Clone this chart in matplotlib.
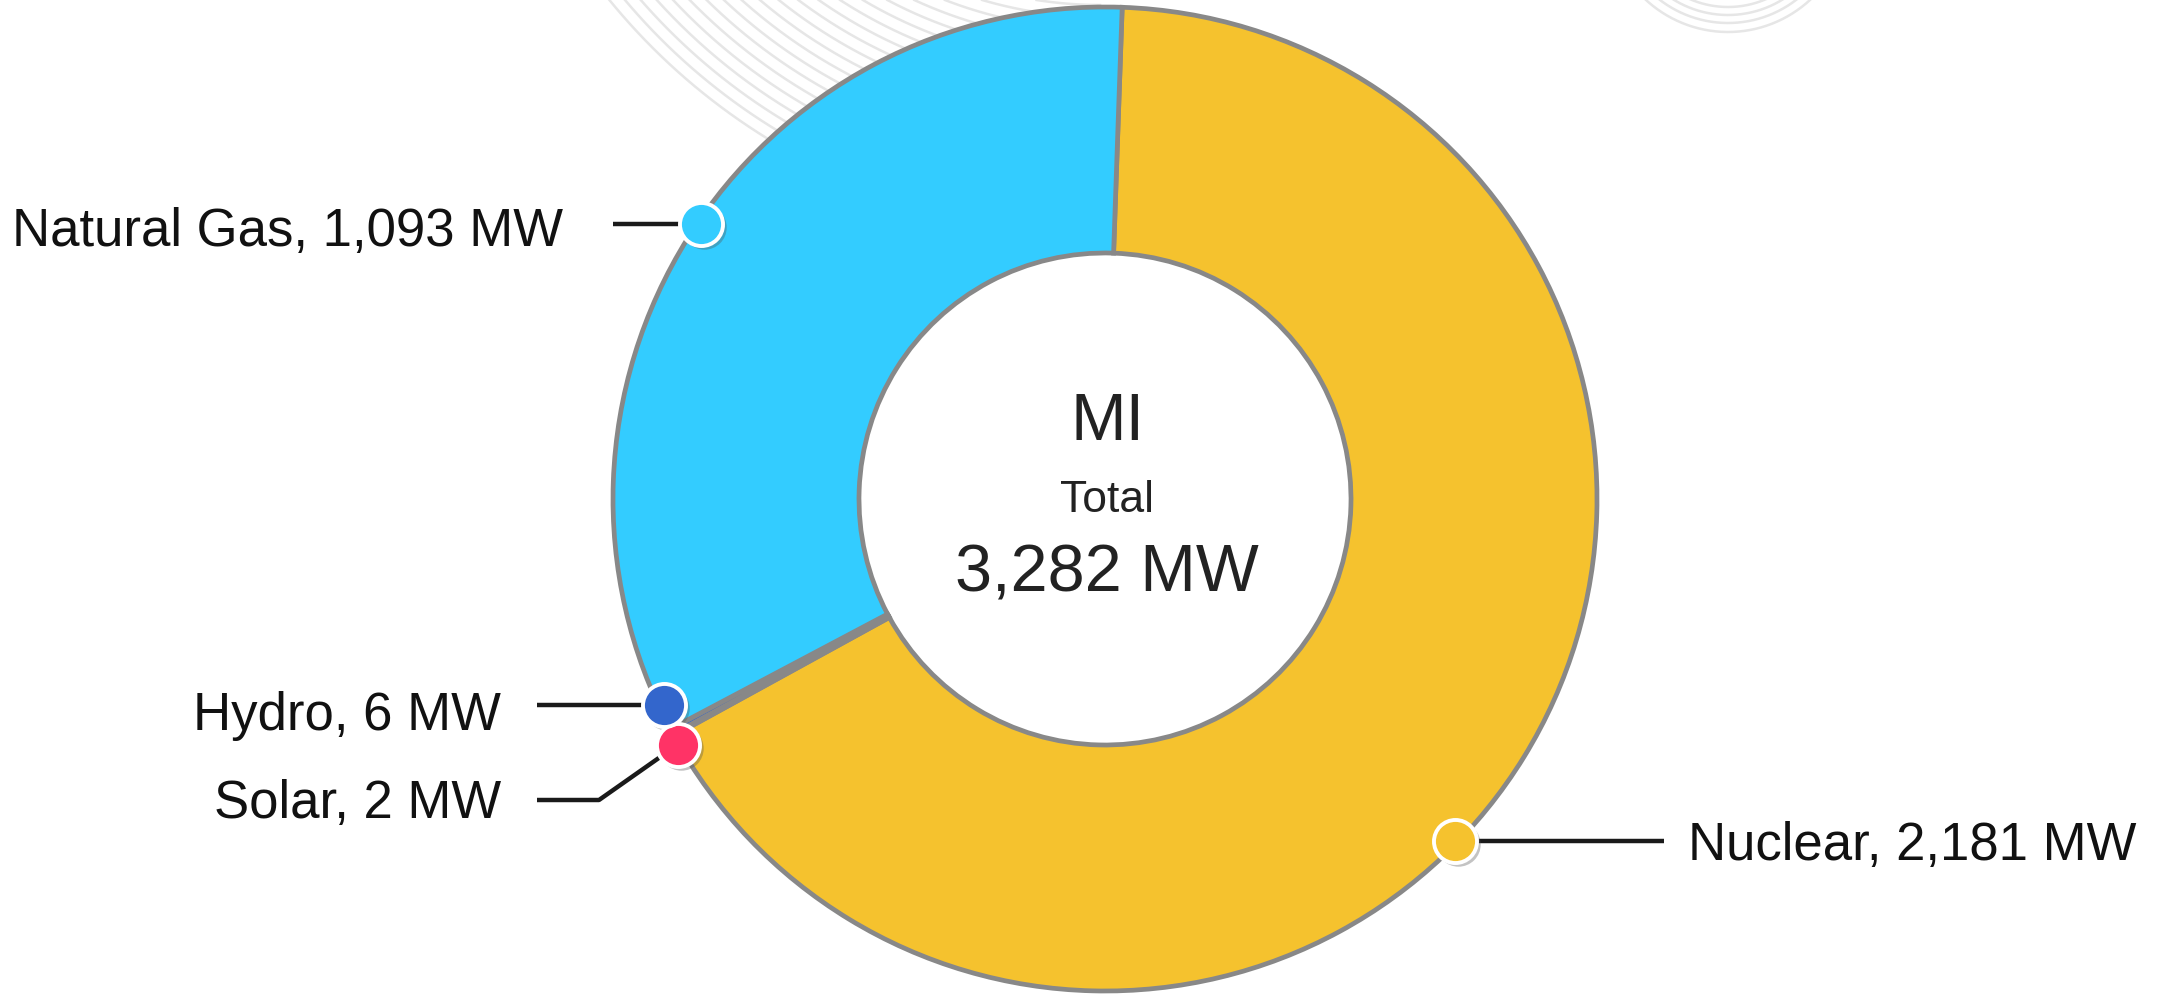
import numpy as np
import matplotlib
matplotlib.use("Agg")
import matplotlib.pyplot as plt

# ---- data ----
categories = ["Nuclear", "Solar", "Hydro", "Natural Gas"]
values_mw = [2181, 2, 6, 1093]
colors = ["#F5C22E", "#FF3366", "#3366CC", "#33CCFF"]
state = "MI"
total_mw = sum(values_mw)

plt.rcParams['font.family'] = ['Liberation Sans', 'DejaVu Sans']

W, H = 2169, 994
fig = plt.figure(figsize=(W / 100, H / 100), dpi=100)
ax = fig.add_axes([0, 0, 1, 1])

def Y(y):  # pixel row (top-down) -> data y (bottom-up)
    return H - y

# layout
cx, cy = 1105, Y(499)
R_out, ring_w = 492, 246

# decorative faint background arcs
bg_col = "#e6e6e6"
for r in np.arange(405, 635, 12):
    tmax = np.arccos(min(1.0, 400 / r))
    t = np.linspace(0, tmax, 200)
    ax.plot(1100 - r * np.sin(t), Y(-400 + r * np.cos(t)), color=bg_col, lw=1.8, zorder=0)
for r in [96, 104, 112, 121]:
    t = np.linspace(-np.pi / 2, np.pi / 2, 200)
    ax.plot(1728 + r * np.sin(t), Y(-89 + r * np.cos(t)), color=bg_col, lw=1.8, zorder=0)

wedges, _ = ax.pie(values_mw, colors=colors, startangle=88, counterclock=False,
                   radius=R_out, center=(cx, cy),
                   wedgeprops=dict(width=ring_w, edgecolor="#888888", linewidth=3.4))
for w in wedges:
    w.set_zorder(2)

ax.set_xlim(0, W)
ax.set_ylim(0, H)
ax.set_aspect('equal')
ax.axis('off')

# center text
ax.text(cx + 2, Y(440), state, ha='center', va='baseline', fontsize=48, color='#222222', zorder=5)
ax.text(cx + 2, Y(512), "Total", ha='center', va='baseline', fontsize=32, color='#222222', zorder=5)
ax.text(cx + 2, Y(591), f"{total_mw:,} MW", ha='center', va='baseline', fontsize=48, color='#222222', zorder=5)

# labels: marker angle (deg), marker radius, and label path
label_layout = {
    "Nuclear":     dict(ang=-44.3, r=489, path=[(1664, 840)], text=(1688, 860), ha='left'),
    "Solar":       dict(ang=-150.1, r=493, path=[(599, 800), (537, 800)], text=(501, 818), ha='right'),
    "Hydro":       dict(ang=-155.0, r=487, path=[(537, 706)], text=(501, 730), ha='right'),
    "Natural Gas": dict(ang=145.8, r=489, path=[(613, 224)], text=(563, 246), ha='right'),
}

for cat, val, col in zip(categories, values_mw, colors):
    L = label_layout[cat]
    a = np.deg2rad(L["ang"])
    mx, my = cx + L["r"] * np.cos(a), cy + L["r"] * np.sin(a)
    xs = [mx] + [p[0] for p in L["path"]]
    ys = [my] + [Y(p[1]) for p in L["path"]]
    if cat in ("Hydro", "Natural Gas", "Nuclear"):
        ys = [my] * len(xs)
    ax.plot(xs, ys, color="#1a1a1a", lw=3.2, zorder=6, solid_capstyle='butt')
    # shadow
    ax.plot([mx + 3], [my - 3], 'o', ms=32, color='#555555', alpha=0.35, mec='none', zorder=7)
    ax.plot([mx], [my], 'o', ms=31, color=col, mec='white', mew=2.8, zorder=8)
    tx, ty = L["text"]
    ax.text(tx, Y(ty), f"{cat}, {val:,} MW", ha=L["ha"], va='baseline',
            fontsize=38, color='#111111', zorder=9)

fig.savefig("out.png", dpi=100, facecolor='white')
